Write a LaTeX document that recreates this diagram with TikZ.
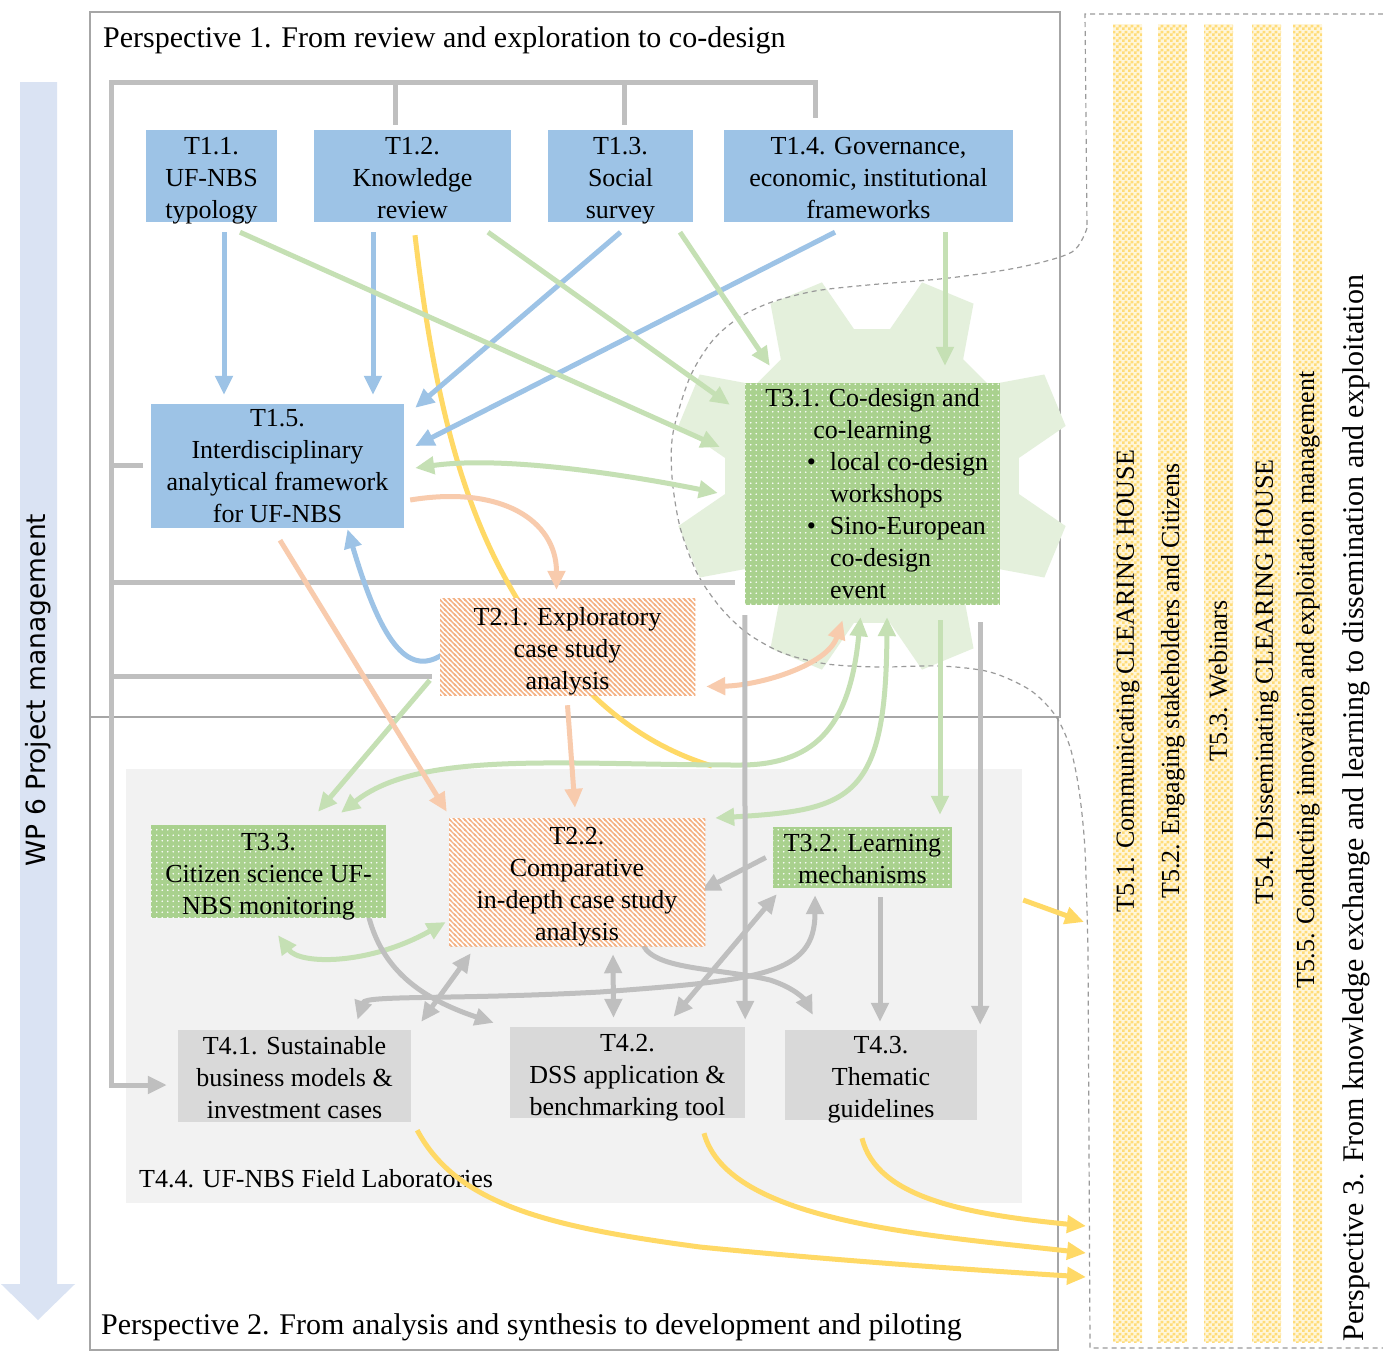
\documentclass[tikz,border=0pt]{standalone}
\usepackage{fontspec}
\setmainfont{Liberation Serif}
\newfontfamily\wpfont{DejaVu Sans}
\usetikzlibrary{arrows.meta,calc,patterns}
\definecolor{boxblue}{HTML}{9DC3E6}
\definecolor{boxgreen}{HTML}{A9D18E}
\definecolor{hatchorange}{HTML}{F4B183}
\definecolor{boxgray}{HTML}{D9D9D9}
\definecolor{bgray}{HTML}{F2F2F2}
\definecolor{gearfill}{HTML}{E4F0DC}
\definecolor{wpblue}{HTML}{DAE3F3}
\definecolor{stripebg}{HTML}{FFF6DA}
\definecolor{checky}{HTML}{FFDC78}
\definecolor{lineblue}{HTML}{9DC3E6}
\definecolor{linegreen}{HTML}{C5E0B4}
\definecolor{lineorange}{HTML}{F8CBAD}
\definecolor{lineyellow}{HTML}{FFD966}
\definecolor{linegray}{HTML}{BFBFBF}
\definecolor{framegray}{HTML}{A6A6A6}
\definecolor{dashgray}{HTML}{9A9A9A}
\pgfdeclarelayer{bg}
\pgfdeclarelayer{back}
\pgfsetlayers{bg,back,main}
\pgfdeclarepatternformonly{mychecker}{\pgfpointorigin}{\pgfpoint{6pt}{6pt}}{\pgfpoint{6pt}{6pt}}{%
  \pgfpathrectangle{\pgfpointorigin}{\pgfpoint{3pt}{3pt}}%
  \pgfpathrectangle{\pgfpoint{3pt}{3pt}}{\pgfpoint{3pt}{3pt}}%
  \pgfusepath{fill}}
\pgfdeclarepatternformonly{mydots}{\pgfpoint{-1pt}{-1pt}}{\pgfpoint{6.5pt}{6.5pt}}{\pgfpoint{5.5pt}{5.5pt}}{%
  \pgfpathcircle{\pgfpoint{2.75pt}{2.75pt}}{0.8pt}%
  \pgfusepath{fill}}
\pgfdeclarepatternformonly{myhatch}{\pgfpoint{-1pt}{-1pt}}{\pgfpoint{6pt}{6pt}}{\pgfpoint{5pt}{5pt}}{%
  \pgfsetlinewidth{1.4pt}%
  \pgfpathmoveto{\pgfpoint{-1pt}{6pt}}\pgfpathlineto{\pgfpoint{6pt}{-1pt}}%
  \pgfpathmoveto{\pgfpoint{-1pt}{1pt}}\pgfpathlineto{\pgfpoint{1pt}{-1pt}}%
  \pgfpathmoveto{\pgfpoint{4pt}{6pt}}\pgfpathlineto{\pgfpoint{6pt}{4pt}}%
  \pgfusepath{stroke}}
\tikzset{
  txt/.style={font=\fontsize{26}{32}\selectfont, align=center, inner sep=0pt, text=black},
  twol/.style={text height=52pt, text depth=0pt},
  threel/.style={text height=87pt, text depth=2pt},
  fourl/.style={text height=116pt, text depth=0pt},
  bluebox/.style={txt, fill=boxblue},
  greenbox/.style={txt, fill=boxgreen, postaction={pattern=mydots, pattern color=white}},
  hatchbox/.style={txt, fill=white, postaction={pattern=myhatch, pattern color=hatchorange}},
  graybox/.style={txt, fill=boxgray},
  titletxt/.style={font=\fontsize{30}{34}\selectfont, inner sep=0pt},
  tfive/.style={font=\fontsize{26}{30}\selectfont, inner sep=0pt, rotate=90},
  frame/.style={draw=framegray, line width=1.3pt},
  plain/.style={line width=5pt},
  conn/.style={line width=5pt, -{Triangle[length=19pt,width=17pt]}},
  dbl/.style={line width=5pt, {Triangle[length=19pt,width=17pt]}-{Triangle[length=19pt,width=17pt]}},
  lnblue/.style={draw=lineblue},
  lngreen/.style={draw=linegreen},
  lnorange/.style={draw=lineorange},
  lnyellow/.style={draw=lineyellow},
  lngray/.style={draw=linegray},
}
\begin{document}
\begin{tikzpicture}[x=1pt,y=-1pt]
\useasboundingbox (0,0) rectangle (1383,1355);

% ---------------- nodes ----------------
\node[bluebox, threel, minimum width=131pt, minimum height=92pt] (t11) at (211.5,176) {T1.1.\\UF-NBS\\typology};
\node[bluebox, threel, minimum width=197pt, minimum height=92pt] (t12) at (412.5,176) {T1.2.\\Knowledge\\review};
\node[bluebox, threel, minimum width=145pt, minimum height=92pt] (t13) at (620.5,176) {T1.3.\\Social\\survey};
\node[bluebox, threel, minimum width=289pt, minimum height=92pt] (t14) at (868.5,176) {T1.4. Governance,\\economic, institutional\\frameworks};
\node[bluebox, minimum width=253pt, minimum height=124pt] (t15) at (277.5,466) {T1.5.\\Interdisciplinary\\analytical framework\\for UF-NBS};
\node[greenbox, minimum width=255pt, minimum height=222pt, align=left] (t31) at (872.5,494)
  {\makebox[255pt][c]{T3.1. Co-design and}\\
   \makebox[255pt][c]{co-learning}\\
   \hspace*{85pt}\llap{\textbullet\hspace{14pt}}local co-design\\
   \hspace*{85pt}workshops\\
   \hspace*{85pt}\llap{\textbullet\hspace{14pt}}Sino-European\\
   \hspace*{85pt}co-design\\
   \hspace*{85pt}event};
\node[hatchbox, threel, minimum width=255pt, minimum height=97pt] (t21) at (567.5,646.5) {T2.1. Exploratory\\case study\\analysis};
\node[hatchbox, fourl, minimum width=256pt, minimum height=128pt] (t22) at (577,882) {T2.2.\\Comparative\\in-depth case study\\analysis};
\node[greenbox, threel, minimum width=235pt, minimum height=93pt] (t33) at (268.5,871.5) {T3.3.\\Citizen science UF-\\NBS monitoring};
\node[greenbox, twol, minimum width=179pt, minimum height=61pt] (t32) at (862.5,857.5) {T3.2. Learning\\mechanisms};
\node[graybox, threel, minimum width=233pt, minimum height=92pt] (t41) at (294.5,1076) {T4.1. Sustainable\\business models \&\\investment cases};
\node[graybox, threel, minimum width=235pt, minimum height=91pt] (t42) at (627.5,1072.5) {T4.2.\\DSS application \&\\benchmarking tool};
\node[graybox, threel, minimum width=192pt, minimum height=90pt] (t43) at (881,1075) {T4.3.\\Thematic\\guidelines};

% ---------------- background ----------------
\begin{pgfonlayer}{bg}
  \fill[white] (0,0) rectangle (1383,1355);
  \fill[wpblue] (20,82) -- (57,82) -- (57,1284) -- (75,1284) -- (38,1320) -- (1,1284) -- (20,1284) -- cycle;
  \node[rotate=90, inner sep=0pt, font=\wpfont\fontsize{26.5}{30}\selectfont] (wp) at (38,690) {WP 6 Project management};
  \node[fill=bgray, minimum width=896pt, minimum height=434pt, inner sep=0pt] (t44) at (574,986) {};
  \node[txt, anchor=base west] (t44lbl) at (139,1187) {T4.4. UF-NBS Field Laboratories};
  \draw[frame] (90,12) rectangle (1060,717);
  \draw[frame] (90,717) rectangle (1058,1350);
  \node[titletxt, anchor=base west] (p1) at (103,47) {Perspective 1. From review and exploration to co-design};
  \node[titletxt, anchor=base west] (p2) at (101,1334) {Perspective 2. From analysis and synthesis to development and piloting};
  % gear
  \coordinate (gc) at (872,476);
  \fill[gearfill] ($(gc)+(7:148)$)
    \foreach \c in {22.5,67.5,...,337.5}{
      -- ($(gc)+({\c-15.5}:148)$) -- ($(gc)+({\c-8}:200)$) -- ($(gc)+({\c+8}:200)$) -- ($(gc)+({\c+15.5}:148)$)
    } -- cycle;
  % dashed outline of perspective 3
  \draw[dashgray, line width=1.2pt, dash pattern=on 5pt off 4pt]
    (1383,14) -- (1085,14) -- (1087,228)
    plot[smooth] coordinates {(1087,228) (1072,252) (1021,267) (949,278) (868,285) (815,291) (772,302) (740,317) (713,340) (690,377) (673,433) (672,477) (680,527) (697,573) (720,607) (747,633) (783,653) (827,664) (880,667) (940,666) (990,672) (1030,690) (1055,715) (1070,747) (1079,790) (1085,850) (1088,950)}
    -- (1090,1348) -- (1383,1348);
  % stripes
  \foreach \x in {1113,1158,1204,1252,1293}{
    \fill[stripebg] (\x,24) rectangle ++(29,1318);
    \fill[pattern=mychecker, pattern color=checky] (\x,24) rectangle ++(29,1318);
  }
  \node[tfive] (t51) at (1128,681) {T5.1. Communicating CLEARING HOUSE};
  \node[tfive] (t52) at (1173,681) {T5.2. Engaging stakeholders and Citizens};
  \node[tfive] (t53) at (1218,681) {T5.3. Webinars};
  \node[tfive] (t54) at (1267,682) {T5.4. Disseminating CLEARING HOUSE};
  \node[tfive] (t55) at (1308,680) {T5.5. Conducting innovation and exploitation management};
  \node[titletxt, rotate=90] (p3) at (1356,808) {Perspective 3. From knowledge exchange and learning to dissemination and exploitation};
\end{pgfonlayer}

\coordinate (yend) at (712,766);
\coordinate (p3a) at (1084,922);
\coordinate (p3b) at (1086,1226);
\coordinate (p3c) at (1086,1253);
\coordinate (p3d) at (1086,1277);

% ---------------- connectors ----------------
\begin{pgfonlayer}{back}
  % gray management bracket
  \draw[conn, lngray] ($(t14.north)+(-53.5,-12)$) -- (815,82) -- (111,82) |- ($(t41.west)+(-11,9)$);
  \draw[plain, lngray] ($(t12.north)+(-17.5,-5)$) -- (395,82);
  \draw[plain, lngray] ($(t13.north)+(3.5,-5)$) -- (624,82);
  \draw[plain, lngray] (111,465) -- ($(t15.west)+(-8,-1)$);
  \draw[plain, lngray] (111,582) -- ($(t31.west)+(-10,88)$);
  \draw[plain, lngray] (111,676) -- ($(t21.west)+(-8,29.5)$);
  % yellow
  \draw[plain, lnyellow] ($(t12.south)+(2.5,13)$) .. controls (440,450) and (480,560) .. (560,660) .. controls (610,720) and (660,750) .. (yend);
  \draw[conn, lnyellow] ($(t44.east)+(1,-86)$) -- (p3a);
  \draw[conn, lnyellow] ($(t41.south east)+(6,8)$) .. controls +(40,75) and +(-150,-20) .. (700,1247) .. controls +(150,15) and +(-80,-5) .. (p3d);
  \draw[conn, lnyellow] ($(t42.south)+(76.5,15)$) .. controls +(24,89) and +(-160,-18) .. (p3c);
  \draw[conn, lnyellow] ($(t43.south)+(-19,18)$) .. controls +(15,60) and +(-120,-12) .. (p3b);
  % blue
  \draw[conn, lnblue] ($(t11.south)+(12.5,10)$) -- ($(t15.north)+(-53.5,-9)$);
  \draw[conn, lnblue] ($(t12.south)+(-39.5,10)$) -- ($(t15.north)+(95.5,-9)$);
  \draw[conn, lnblue] ($(t13.south)+(0,10)$) -- ($(t15.north east)+(11,4)$);
  \draw[conn, lnblue] ($(t14.south)+(-33.5,10)$) -- ($(t15.east)+(11,-20)$);
  \draw[conn, lnblue] ($(t21.west)+(2,8.5)$) .. controls +(-35,22) and +(33,111) .. ($(t15.south)+(70,1)$);
  % green
  \draw[conn, lngreen] ($(t11.south)+(28.5,10)$) -- ($(t31.west)+(-25,-47)$);
  \draw[conn, lngreen] ($(t12.south)+(75.5,10)$) -- ($(t31.north west)+(-15,22)$);
  \draw[conn, lngreen] ($(t13.south)+(59.5,10)$) -- ($(t31.north west)+(25,-17)$);
  \draw[conn, lngreen] ($(t14.south)+(76.5,10)$) -- ($(t31.north)+(72.5,-17)$);
  \draw[dbl, lngreen] ($(t15.east)+(11,2)$) .. controls +(85,-12) and +(-100,-20) .. ($(t31.west)+(-27,-1)$);
  \draw[conn, lngreen] ($(t21.south west)+(-10,-15)$) -- ($(t33.north)+(49.5,-13)$);
  \draw[dbl, lngreen] ($(t31.south)+(-12,12)$) .. controls +(-10,103) and +(80,0) .. (740,765) .. controls +(-180,0) and +(79,-63) .. ($(t33.north)+(72.5,-12)$);
  \draw[dbl, lngreen] ($(t31.south)+(14.5,12)$) .. controls +(-1,183) and +(135,-8) .. ($(t22.east)+(10,-64)$);
  \draw[conn, lngreen] ($(t31.south)+(67.5,15)$) -- ($(t32.north)+(77.5,-12)$);
  \draw[dbl, lngreen] ($(t33.south)+(9.5,17)$) .. controls +(22,30) and +(-76,43) .. ($(t22.west)+(-3,40)$);
  % orange
  \draw[conn, lnorange] ($(t15.east)+(6,34)$) .. controls +(90,-15) and +(0,-70) .. ($(t21.north)+(-11,-8)$);
  \draw[conn, lnorange] ($(t15.south)+(2.5,12)$) -- ($(t22.north west)+(-2,-6)$);
  \draw[conn, lnorange] ($(t21.south)+(0,10)$) -- ($(t22.north)+(-2,-10)$);
  \draw[dbl, lnorange] ($(t31.south)+(-30,15)$) .. controls +(-15,45) and +(54,-1) .. ($(t21.east)+(11,40)$);
  % gray
  \draw[conn, lngray] ($(t31.south west)+(0,10)$) -- ($(t42.north east)+(0,-7)$);
  \draw[conn, lngray] ($(t31.south east)+(-20,17)$) -- ($(t43.north east)+(3,-5)$);
  \draw[conn, lngray] ($(t32.south)+(17.5,9)$) -- ($(t43.north)+(-1,-8)$);
  \draw[conn, lngray] ($(t32.west)+(-7,0)$) -- ($(t22.east)+(-4,9)$);
  \draw[conn, lngray] ($(t33.east)+(-22,21)$) .. controls +(8,67) and +(-84,-28) .. ($(t42.north west)+(-16,-4)$);
  \draw[dbl, lngray] ($(t22.south west)+(22,7)$) -- ($(t41.north east)+(10,-8)$);
  \draw[dbl, lngray] ($(t22.south)+(36,8)$) -- ($(t42.north)+(-14,-9)$);
  \draw[dbl, lngray] ($(t42.north)+(46,-10)$) -- ($(t32.south west)+(4,6)$);
  \draw[dbl, lngray] ($(t32.south)+(-47.5,7)$) .. controls +(0,80) and +(160,-12) .. (600,992) .. controls +(-150,8) and +(8,-25) .. ($(t41.north)+(63,-10)$);
  \draw[conn, lngray] ($(t22.south east)+(-62,-1)$) .. controls +(12,25) and +(-50,-12) .. (770,980) .. controls +(25,8) and +(-8,-15) .. ($(t43.north west)+(28,-15)$);
\end{pgfonlayer}
\end{tikzpicture}
\end{document}
